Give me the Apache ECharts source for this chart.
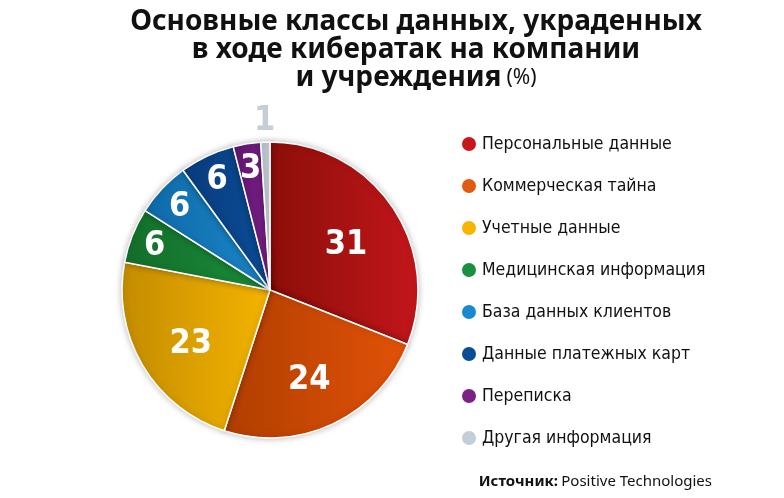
<!DOCTYPE html>
<html><head><meta charset="utf-8">
<script src="https://cdn.jsdelivr.net/npm/echarts@6/dist/echarts.min.js"></script>
<style>html,body{margin:0;padding:0;background:#fff}#c{width:784px;height:498px}</style>
</head><body><div id="c"></div>
<script>
const categories = ['Персональные данные','Коммерческая тайна','Учетные данные','Медицинская информация','База данных клиентов','Данные платежных карт','Переписка','Другая информация'];
const values = [31,24,23,6,6,6,3,1];
const colorsLight = ['#c3161b','#e25208','#f4b400','#1a8c3a','#1a86c8','#0b4c96','#7b1f88','#c7d1d8'];
const colorsDark  = ['#8c0e08','#b03e00','#c48c00','#136e2a','#0f6aa8','#083c7c','#5e1670','#b4c0c8'];
const legendColors = ['#c8161d','#e05a10','#f7b500','#1a9040','#1a8ad0','#0b4c96','#7b2185','#c3ced6'];
const labelRing = ['mid','mid','mid','outer','outer','outer','outer','top'];

const chart = echarts.init(document.getElementById('c'));
const R = 148;
const numFont = {color:'#fff',fontFamily:'DejaVu Sans Condensed, Liberation Sans Narrow, sans-serif',fontWeight:'bold',fontSize:34};

function overlay(radius, ring, extra){
  return {
    type:'pie', silent:true, center:[270,290], radius:radius, startAngle:90, clockwise:true,
    avoidLabelOverlap:false, labelLine:{show:false},
    itemStyle:{color:'rgba(0,0,0,0)'}, emphasis:{disabled:true}, legendHoverLink:false,
    z:5,
    data: categories.map((c,i)=>({name:c+' ', value:values[i],
      label:Object.assign({show:labelRing[i]===ring, position:'inside', formatter:String(values[i])}, numFont, extra||{})}))
  };
}

chart.setOption({
  backgroundColor:'#fff',
  title:{
    text:'{b|Основные классы данных, украденных}\n{b|в ходе кибератак на компании}\n{b|и учреждения} {r|(%)}',
    left:411, top:3, textAlign:'center',
    textStyle:{rich:{
      b:{fontFamily:'Noto Sans, sans-serif',fontWeight:'bold',fontSize:28,color:'#111',lineHeight:28},
      r:{fontFamily:'Noto Sans, sans-serif',fontWeight:'normal',fontSize:21,color:'#111',lineHeight:28}
    }}
  },
  graphic:[{
    type:'text', right:72, top:474,
    style:{text:'{b|Источник:} {r|Positive Technologies}',
      rich:{b:{fontFamily:'Noto Sans, sans-serif',fontWeight:'bold',fontSize:15,fill:'#111'},
            r:{fontFamily:'Noto Sans, sans-serif',fontSize:15,fill:'#111'}}}
  }],
  legend:{
    orient:'vertical', left:455, top:130, icon:'circle', itemWidth:16, itemHeight:16, itemGap:24,
    textStyle:{fontFamily:'DejaVu Sans Condensed, Liberation Sans Narrow, sans-serif',fontSize:17.5,color:'#111'},
    data: categories.map((c,i)=>({name:c, itemStyle:{color:legendColors[i]}}))
  },
  series:[
    {
      type:'pie', center:[270,290], radius:[0,R], startAngle:90, clockwise:true,
      avoidLabelOverlap:false, label:{show:false}, labelLine:{show:false},
      emphasis:{scale:false},
      itemStyle:{borderColor:'#fff',borderWidth:1.5, shadowBlur:6, shadowColor:'rgba(0,0,0,0.25)'},
      data: categories.map((c,i)=>({name:c, value:values[i], itemStyle:{color:{
        type:'linear', x:0, y:0, x2:1, y2:0,
        colorStops:[{offset:0,color:colorsDark[i]},{offset:1,color:colorsLight[i]}]}}}))
    },
    overlay([0,178],'mid',{offset:[0,7]}),
    overlay([96,146],'outer',{offset:[0,2]}),
    overlay([146,186],'top',{color:'#c3ced6'})
  ]
});
</script></body></html>
